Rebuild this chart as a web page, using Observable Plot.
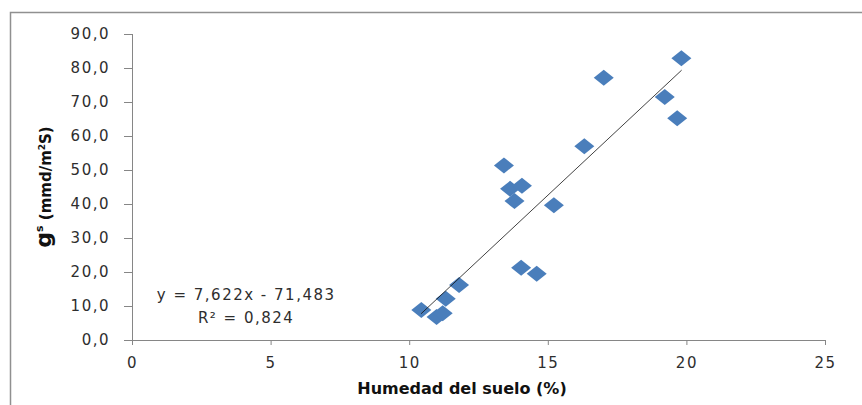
<!DOCTYPE html>
<html>
<head>
<meta charset="utf-8">
<script src="https://cdn.jsdelivr.net/npm/d3@7"></script>
<script src="https://cdn.jsdelivr.net/npm/@observablehq/plot@0.6"></script>
<style>
  html, body { margin: 0; padding: 0; background: #fff; }
  #chart { width: 862px; height: 405px; overflow: hidden; }
</style>
</head>
<body>
<div id="chart"></div>
<script>
// Data
const humedad = [19.8, 17.0, 19.2, 19.65, 16.3, 13.4, 13.62, 14.05, 13.78, 15.2, 14.02, 14.58, 11.78, 11.3, 10.42, 10.97, 11.19];
const gs      = [83.0, 77.3, 71.6, 65.4, 57.1, 51.5, 44.6, 45.5, 41.0, 39.8, 21.4, 19.6, 16.3, 12.3, 9.0, 6.9, 8.0];
const slope = 7.622;
const intercept = -71.483;
const equationLines = ["y = 7,622x - 71,483", "R² = 0,824"];
const xTicks = [0, 5, 10, 15, 20, 25];
const yTicks = [0, 10, 20, 30, 40, 50, 60, 70, 80, 90];
const xTitle = "Humedad del suelo (%)";

const points = humedad.map((h, i) => ({x: h, y: gs[i]}));
const xMin = d3.min(humedad), xMax = d3.max(humedad);
const trend = [xMin, xMax].map(x => ({x, y: slope * x + intercept}));

const wideDiamond = {
  draw(ctx, size) {
    const r = Math.sqrt(size / Math.PI);
    const w = r, h = r * 0.8;
    ctx.moveTo(0, -h); ctx.lineTo(w, 0); ctx.lineTo(0, h); ctx.lineTo(-w, 0); ctx.closePath();
  }
};

const axisGray = "#868686";
const textCol = "#2e2e2e";

const chart = Plot.plot({
  width: 862,
  height: 405,
  marginLeft: 132,
  marginRight: 37,
  marginTop: 34,
  marginBottom: 65,
  x: {domain: [0, 25]},
  y: {domain: [0, 90]},
  style: {fontFamily: "DejaVu Sans", fontSize: "15px", color: textCol, background: "white", letterSpacing: "1.5px"},
  marks: [
    Plot.ruleY([0], {stroke: axisGray}),
    Plot.ruleX([0], {stroke: axisGray}),
    Plot.axisY(yTicks, {tickSize: 8, tickPadding: 14.5, stroke: axisGray, fill: textCol, label: null,
      tickFormat: d => d.toFixed(1).replace(".", ",")}),
    Plot.axisX(xTicks, {tickSize: 5, tickPadding: 12, stroke: axisGray, fill: textCol, label: null,
      tickFormat: d => String(d)}),
    Plot.dot(points, {x: "x", y: "y", r: 10, symbol: wideDiamond, fill: "#4a7ebb", stroke: "none"}),
    Plot.line(trend, {x: "x", y: "y", stroke: "#111", strokeWidth: 0.8}),
    Plot.text([equationLines.join("\n")], {x: () => 4.1, y: () => 10.6, text: d => d, textAnchor: "middle",
      lineAnchor: "middle", lineHeight: 1.47, fill: textCol, fontSize: 15})
  ]
});

const svg = d3.select(chart);
// outer chart-area border (top and left visible)
svg.append("path").attr("d", "M10.5,405V12.5H862").attr("fill", "none").attr("stroke", "#909090").attr("stroke-width", 1.5);
// x title
svg.append("text").attr("x", 462).attr("y", 394).attr("text-anchor", "middle")
  .attr("font-family", "DejaVu Sans").attr("font-weight", "bold").attr("font-size", 16)
  .attr("letter-spacing", 0).attr("fill", "#111").text(xTitle);
// y title
const yt = svg.append("text").attr("transform", "translate(51,187) rotate(-90)").attr("text-anchor", "middle")
  .attr("font-family", "DejaVu Sans").attr("font-weight", "bold")
  .attr("letter-spacing", 0).attr("fill", "#111");
const parts = [["g", 22, 0], ["s", 11, -8], [" (mmd/m", 15, 8], ["2", 9, -6], ["S)", 15, 6]];
parts.forEach(([t, fs, dy]) => yt.append("tspan").attr("font-size", fs).attr("dy", dy).text(t));

document.getElementById("chart").appendChild(chart);
</script>
</body>
</html>
